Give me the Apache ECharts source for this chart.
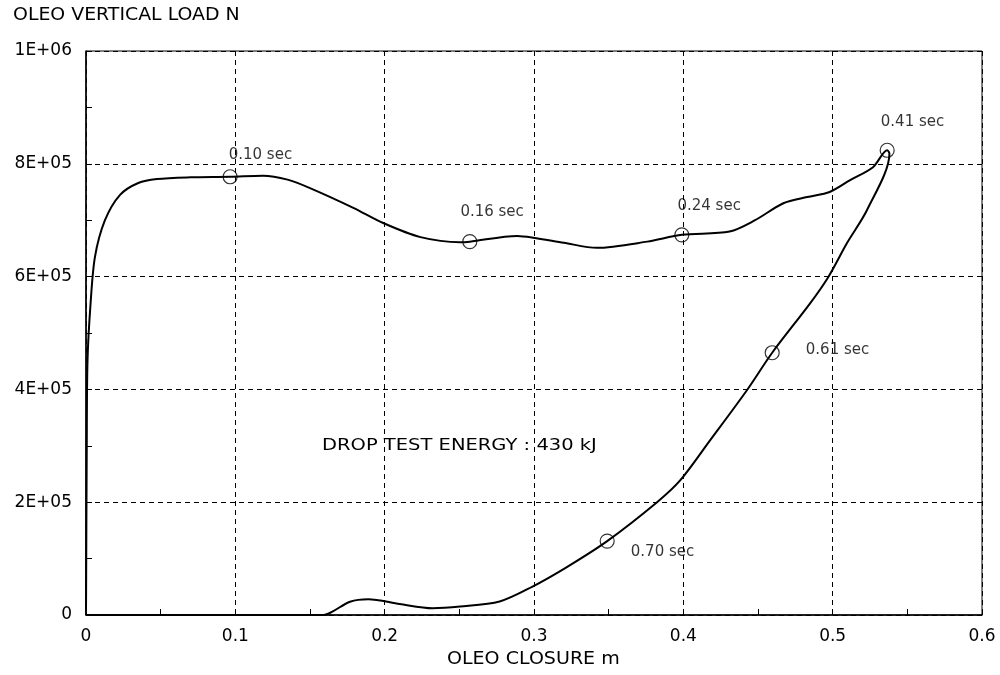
<!DOCTYPE html>
<html>
<head>
<meta charset="utf-8">
<script src="https://cdn.jsdelivr.net/npm/echarts@6/dist/echarts.min.js"></script>
<style>
  html, body { margin: 0; padding: 0; background: #fff; }
  #chart { width: 1000px; height: 675px; }
</style>
</head>
<body>
<div id="chart"></div>
<script>
// oleo closure (m) and vertical load (N)
var loadClosure = [0, 0.0005, 0.001, 0.003, 0.006, 0.0127, 0.0228, 0.035, 0.0475, 0.07, 0.0965, 0.1185, 0.135, 0.15, 0.179, 0.199, 0.224, 0.2505, 0.257, 0.2887, 0.2994, 0.32, 0.342, 0.3758, 0.399, 0.431, 0.448, 0.467, 0.483, 0.498, 0.5117, 0.527, 0.5365];
var loadForce = [0, 300000, 450000, 550000, 635000, 700000, 745000, 766000, 773000, 776000, 777000, 779000, 772000, 757000, 722000, 695000, 670000, 661000, 662000, 672000, 669000, 660000, 651000, 662000, 674000, 680000, 700000, 730000, 741000, 750000, 771000, 794000, 824000];
var unloadClosure = [0.538, 0.523, 0.5097, 0.497, 0.485, 0.4595, 0.4427, 0.418, 0.398, 0.3824, 0.349, 0.322, 0.2987, 0.277, 0.2505, 0.232, 0.21, 0.189, 0.1768, 0.165, 0.159, 0.1, 0.05, 0];
var unloadForce = [818000, 718000, 660000, 599000, 553000, 465000, 399000, 310000, 239000, 200000, 131000, 85000, 50000, 24000, 15000, 12000, 19500, 28000, 23600, 6000, 0, 0, 0, 0];

// time marks along the cycle
var markTimes = ['0.10 sec', '0.16 sec', '0.24 sec', '0.41 sec', '0.61 sec', '0.70 sec'];
var markClosure = [0.0965, 0.257, 0.399, 0.5365, 0.4595, 0.349];
var markForce = [777000, 662000, 674000, 824000, 465000, 131000];
var markOffsets = [[-14, -22], [-22, -30], [-17, -29], [-19, -28], [21, -3], [11, 11]];

var yLabels = { 0: '0', 200000: '2E+05', 400000: '4E+05', 600000: '6E+05', 800000: '8E+05', 1000000: '1E+06' };

var curve = [];
loadClosure.forEach(function (x, i) { curve.push([x, loadForce[i]]); });
unloadClosure.forEach(function (x, i) { curve.push([x, unloadForce[i]]); });

var marks = markClosure.map(function (x, i) {
  return {
    value: [x, markForce[i]],
    label: { offset: markOffsets[i], formatter: markTimes[i] }
  };
});

var font = 'DejaVu Sans';
var chart = echarts.init(document.getElementById('chart'));

var option = {
  animation: false,
  backgroundColor: '#fff',
  textStyle: { fontFamily: font, color: '#000' },
  grid: {
    left: 86, right: 18, top: 51, bottom: 60,
    show: true, borderColor: '#000', borderWidth: 1
  },
  xAxis: {
    type: 'value', min: 0, max: 0.6, interval: 0.1,
    axisLine: { lineStyle: { color: '#000', width: 1.5 } },
    axisTick: { inside: true, length: 6, lineStyle: { color: '#000' } },
    minorTick: { show: true, splitNumber: 2, length: 6, lineStyle: { color: '#000' } },
    axisLabel: {
      color: '#000', fontSize: 17, margin: 13,
      formatter: function (v) { return v === 0 ? '0' : v.toFixed(1); }
    },
    splitLine: { show: true, lineStyle: { color: '#000', type: [5, 4], width: 1 } }
  },
  yAxis: {
    type: 'value', min: 0, max: 1000000, interval: 200000,
    axisLine: { show: true, lineStyle: { color: '#000', width: 1.5 } },
    axisTick: { show: true, inside: true, length: 6, lineStyle: { color: '#000' } },
    minorTick: { show: true, splitNumber: 2, length: 6, lineStyle: { color: '#000' } },
    axisLabel: {
      color: '#000', fontSize: 17, margin: 14,
      formatter: function (v) { return yLabels[v] || ''; }
    },
    splitLine: { show: true, lineStyle: { color: '#000', type: [5, 4], width: 1 } }
  },
  graphic: [
    { type: 'text', x: 13, y: 6, scaleX: 1.05, style: { text: 'OLEO VERTICAL LOAD N', fontFamily: font, fontSize: 18, fill: '#000' } },
    { type: 'text', x: 447, y: 651, scaleX: 1.12, style: { text: 'OLEO CLOSURE m', fontFamily: font, fontSize: 17, fill: '#000' } },
    { type: 'text', x: 322, y: 439, scaleX: 1.3, style: { text: 'DROP TEST ENERGY : 430 kJ', fontFamily: font, fontSize: 15, fill: '#000' } }
  ],
  series: [
    {
      type: 'line',
      data: curve,
      smooth: 0.3,
      showSymbol: false,
      lineStyle: { color: '#000', width: 2 },
      z: 3
    },
    {
      type: 'scatter',
      data: marks,
      symbol: 'circle',
      symbolSize: 14,
      itemStyle: { color: 'rgba(0,0,0,0)', borderColor: '#000', borderWidth: 1.2 },
      label: { show: true, position: 'right', color: '#000', fontSize: 15, fontFamily: font },
      z: 4
    }
  ]
};

chart.setOption(option);
</script>
</body>
</html>
